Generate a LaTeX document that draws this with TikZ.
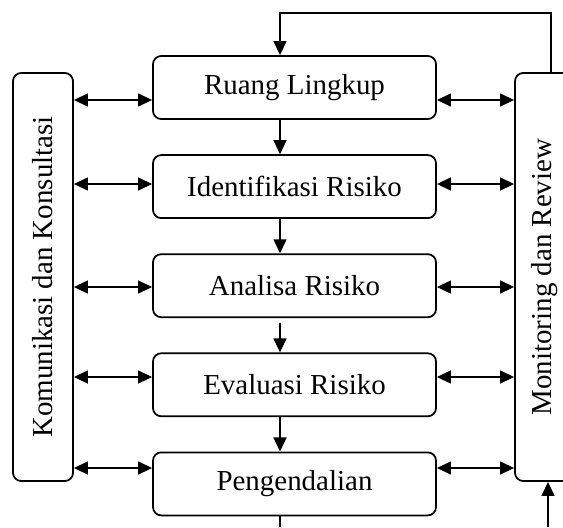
\documentclass[tikz,border=0pt]{standalone}
\usepackage{fontspec}
\setmainfont{Liberation Serif}
\usetikzlibrary{positioning,arrows.meta}

\begin{document}
\begin{tikzpicture}[x=0.03cm, y=-0.03cm,
    box/.style={draw, rectangle, rounded corners=7pt, line width=1.5pt, minimum width=8.49cm, minimum height=1.89cm, inner sep=0pt, align=center, font=\fontsize{24.7}{29}\selectfont},
    sidebox/.style={draw, rectangle, rounded corners=7pt, line width=1.5pt, minimum width=12.24cm, minimum height=1.8cm, inner sep=0pt, rotate=90, font=\fontsize{24.7}{29}\selectfont},
    arrow/.style={-{Triangle[length=12pt,width=11pt]}, line width=1.6pt},
    twoway/.style={{Triangle[length=12pt,width=11pt]}-{Triangle[length=12pt,width=11pt]}, line width=1.6pt}
  ]
  \useasboundingbox (0,0) rectangle (563,527);

  % main steps
  \node[box] (ruang) at (294.5,87.5) {Ruang Lingkup};
  \node[box, below=1.03cm of ruang] (ident) {Identifikasi Risiko};
  \node[box, below=1.03cm of ident] (analisa) {Analisa Risiko};
  \node[box, below=1.03cm of analisa] (evaluasi) {Evaluasi Risiko};
  \node[box, below=1.03cm of evaluasi] (kendali) {Pengendalian};

  % side bars (rotated: south is the right side, north the left side)
  \node[sidebox] (kom) at (43,277) {Komunikasi dan Konsultasi};
  \node[sidebox] (mon) at (545,277) {Monitoring dan Review};

  \coordinate (fbL) at (280,13);
  \coordinate (fbR) at (551,13);
  \coordinate (endL) at (280,527);
  \coordinate (endR) at (548,527);

  \draw[arrow] (ruang.south -| fbL) -- (ident.north -| fbL);
  \draw[arrow] (ident.south -| fbL) -- (analisa.north -| fbL);
  \draw[arrow, shorten <=4pt] (analisa.south -| fbL) -- (evaluasi.north -| fbL);
  \draw[arrow] (evaluasi.south -| fbL) -- (kendali.north -| fbL);

  \foreach \n/\y in {ruang/100, ident/184, analisa/287, evaluasi/377, kendali/468} {
    \draw[twoway] (kom.south |- 0,\y) -- (\n.west |- 0,\y);
    \draw[twoway] (\n.east |- 0,\y) -- (mon.north |- 0,\y);
  }

  % feedback loop
  \draw[arrow] (fbR |- mon.east) -- (fbR) -- (fbL) -- (fbL |- ruang.north);
  \draw[line width=1.6pt] (kendali.south -| endL) -- (endL);
  \draw[arrow] (endR) -- (endR |- mon.west);
\end{tikzpicture}
\end{document}
